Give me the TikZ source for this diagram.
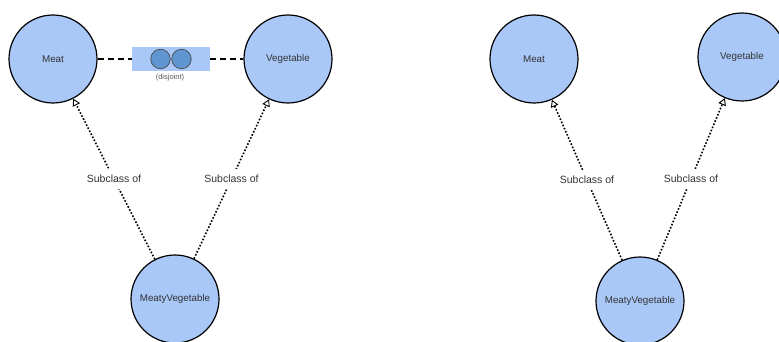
\documentclass[tikz,border=0pt]{standalone}
\usepackage{fontspec}
\setmainfont{Liberation Sans}
\usetikzlibrary{arrows.meta}
\definecolor{classfill}{HTML}{A9C8F8}
\definecolor{disjfill}{HTML}{5F96D2}
\definecolor{labelgray}{HTML}{333333}
\tikzset{
  classnode/.style={circle, draw=black, line width=1.2pt, fill=classfill,
    minimum size=88pt, inner sep=0pt, font=\fontsize{9.8}{11}\selectfont, text=black!80},
  subclass/.style={line width=1.6pt, dash pattern=on 1.6pt off 1.8pt,
    -{Triangle[open, width=8pt, length=7pt, line width=0.9pt, fill=white]}},
  edgelabel/.style={fill=white, inner xsep=2pt, inner ysep=6pt,
    font=\fontsize{10.5}{12}\selectfont, text=labelgray},
  disjline/.style={line width=1.4pt, dash pattern=on 6pt off 4pt},
  disjbox/.style={fill=classfill, minimum width=78pt, minimum height=24pt, inner sep=0pt},
  disjdot/.style={circle, draw=black!70, line width=0.7pt, fill=disjfill,
    minimum size=19.5pt, inner sep=0pt}
}
\begin{document}
\begin{tikzpicture}[x=1pt, y=-1pt]
  \useasboundingbox (0,0) rectangle (779,342);
  \begin{scope}
    \clip (0,0) rectangle (779,342);

    % first ontology: disjoint classes
    \node[classnode] (meatA) at (53,59) {Meat};
    \node[classnode] (vegA) at (288,59) {Vegetable};
    \node[classnode] (mvA) at (175,299) {MeatyVegetable};

    \node[disjbox] (disj) at (171,59) {};
    \node[disjdot] (dotL) at (160.5,59) {};
    \node[disjdot] (dotR) at (181.5,59) {};
    \node[font=\fontsize{7.5}{8}\selectfont, text=black!65, inner sep=0pt]
      (disjlabel) at (170,78) {(disjoint)};

    \draw[disjline] (meatA) -- (disj);
    \draw[disjline] (disj) -- (vegA);

    \draw[subclass] (mvA) -- node[edgelabel] (lblA1) {Subclass of} (meatA);
    \draw[subclass] (mvA) -- node[edgelabel] (lblA2) {Subclass of} (vegA);

    % second ontology: no disjointness axiom
    \node[classnode] (meatB) at (534,59) {Meat};
    \node[classnode] (vegB) at (742,57) {Vegetable};
    \node[classnode] (mvB) at (640,301) {MeatyVegetable};

    \draw[subclass] (mvB) -- node[edgelabel] (lblB1) {Subclass of} (meatB);
    \draw[subclass] (mvB) -- node[edgelabel] (lblB2) {Subclass of} (vegB);
  \end{scope}
\end{tikzpicture}
\end{document}
